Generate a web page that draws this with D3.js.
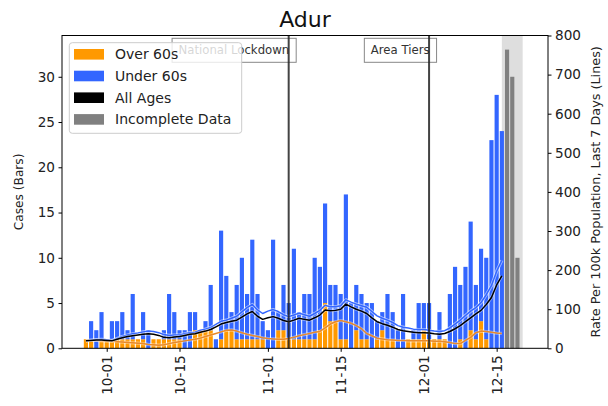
<!DOCTYPE html>
<html><head><meta charset="utf-8">
<script src="https://cdn.jsdelivr.net/npm/d3@7"></script>
<style>body{margin:0;background:#fff;} text{font-family:"DejaVu Sans",sans-serif;}</style>
</head><body><svg id="c" width="608" height="406"></svg>
<script>
// ---------------- data ----------------
const title = "Adur";
const firstDate = "2020-09-27";           // first daily bar
const over60 = [1,1,0,1,1,1,1,1,1,1,1,1,0,1,1,1,1,1,1,0,0,2,2,2,2,0,1,2,2,1,1,1,1,1,1,0,0,2,2,1,1,1,1,1,1,2,5,3,3,1,1,0,2,1,1,0,1,2,1,1,0,0,1,1,1,2,1,1,1,1,0,0,1,0,2,1,3,1,0,0,0];
const under60 = [0,2,2,3,0,2,2,3,1,5,0,3,2,0,0,1,5,3,1,2,4,2,0,1,5,1,12,6,2,6,9,5,11,5,2,2,12,2,5,4,10,3,5,5,9,7,11,4,4,5,16,5,5,5,4,5,2,2,5,3,2,6,0,1,4,3,4,0,3,0,6,9,6,9,12,6,8,9,23,28,24];
const incompleteDates = ["2020-12-17","2020-12-18","2020-12-19"];
const incompleteCases = [33,30,10];
const rateAll = [19,20,21,21,20,19,23,27,30,32,34,36,37,36,33,28,27,29,30,33,36,37,41,44,48,55,62,66,69,72,80,88,94,82,74,78,81,77,71,68,72,77,74,72,78,85,98,96,97,100,113,106,100,95,89,78,68,63,59,54,48,45,43,41,40,40,39,37,36,38,43,50,58,68,78,88,97,112,130,162,185];
const rateOver60 = [21,20,20,19,18,18,17,16,15,14,13,12,10,9,8,9,12,15,17,19,21,23,26,30,34,38,42,46,47,44,40,36,33,30,27,25,24,23,23,25,28,32,35,38,41,43,52,62,68,71,68,64,58,50,38,32,26,24,22,21,20,20,19,19,19,19,19,18,18,17,15,12,12,20,28,40,44,43,41,39,38];
const rateUnder60 = [19,21,22,23,22,20,25,30,34,37,39,42,44,43,40,35,33,34,34,37,40,41,46,49,53,61,69,72,77,82,93,104,112,98,89,95,99,94,86,81,85,90,86,82,89,97,110,106,106,109,124,118,113,109,105,94,83,77,72,66,58,54,52,49,48,48,46,44,43,45,52,62,72,84,95,104,117,137,160,197,225];
const shadeRange = ["2020-12-16","2020-12-20"];
const eventDates = ["2020-11-05","2020-12-02"];
const eventLabels = ["National Lockdown","Area Tiers"];
const xTickDates = ["2020-10-01","2020-10-15","2020-11-01","2020-11-15","2020-12-01","2020-12-15"];
const yLeftTicks = [0,5,10,15,20,25,30];
const yRightTicks = [0,100,200,300,400,500,600,700,800];
const legendLabels = ["Over 60s","Under 60s","All Ages","Incomplete Data"];
const legendColors = ["#ff9900","#3366ff","#000000","#808080"];

// ---------------- layout ----------------
const C = {orange:"#ff9900", blue:"#3366ff", grey:"#808080", orangeLine:"#e8892a"};
const L = 62, R = 548, T = 35.5, B = 348.3;
const svg = d3.select("#c");
const parse = d3.utcParse("%Y-%m-%d");
const day0 = parse(firstDate);
const dates = under60.map((_, i) => d3.utcDay.offset(day0, i));

const x = d3.scaleUtc()
  .domain([new Date(Date.UTC(2020,8,22,9,36)), new Date(Date.UTC(2020,11,24,21,0))])
  .range([L, R]);
const yL = d3.scaleLinear().domain([0, 34.56]).range([B, T]);
const yR = d3.scaleLinear().domain([0, 800]).range([B, T]);
const dayW = x(d3.utcDay.offset(day0,1)) - x(day0);
const bw = dayW * 0.8;

// shading for incomplete data
svg.append("rect")
  .attr("x", x(parse(shadeRange[0]))).attr("y", T)
  .attr("width", x(parse(shadeRange[1])) - x(parse(shadeRange[0])))
  .attr("height", B - T).attr("fill", "#d3d3d3").attr("opacity", 0.75);

// stacked bars
const g = svg.append("g");
g.selectAll(".o").data(dates).join("rect")
  .attr("x", d => x(d) - bw/2).attr("width", bw)
  .attr("y", (d,i) => yL(over60[i])).attr("height", (d,i) => yL(0) - yL(over60[i]))
  .attr("fill", C.orange);
g.selectAll(".u").data(dates).join("rect")
  .attr("x", d => x(d) - bw/2).attr("width", bw)
  .attr("y", (d,i) => yL(over60[i] + under60[i]))
  .attr("height", (d,i) => yL(over60[i]) - yL(over60[i] + under60[i]))
  .attr("fill", C.blue);
g.selectAll(".gr").data(incompleteDates).join("rect")
  .attr("x", d => x(parse(d)) - bw/2).attr("width", bw)
  .attr("y", (d,i) => yL(incompleteCases[i])).attr("height", (d,i) => yL(0) - yL(incompleteCases[i]))
  .attr("fill", C.grey);

// lines
function drawLine(vals, color, haloOp) {
  const line = d3.line().x((v,i) => x(dates[i])).y(v => yR(v));
  svg.append("path").attr("d", line(vals)).attr("fill","none")
    .attr("stroke","#fff").attr("stroke-width",3.2).attr("stroke-opacity",haloOp).attr("stroke-linejoin","round");
  svg.append("path").attr("d", line(vals)).attr("fill","none")
    .attr("stroke",color).attr("stroke-width",1.5).attr("stroke-linejoin","round");
}
drawLine(rateOver60, C.orangeLine, 0.4);
drawLine(rateUnder60, C.blue, 0.55);
drawLine(rateAll, "#000", 0.4);

// event annotations
eventDates.forEach((d, i) => {
  const ex = x(parse(d));
  const grp = svg.append("g");
  const txt = grp.append("text").attr("x", ex + 0.5).attr("y", 54.2)
    .attr("text-anchor","end").attr("font-size", 11.7).attr("fill","#333").text(eventLabels[i]);
  const tw = txt.node().getComputedTextLength();
  grp.insert("rect","text").attr("x", ex + 0.5 - tw - 6.5).attr("y", 38.3)
    .attr("width", tw + 13.5).attr("height", 24)
    .attr("fill","#fff").attr("fill-opacity",0.6).attr("stroke","#888").attr("stroke-width",1);
  svg.append("line").attr("x1", ex).attr("x2", ex).attr("y1", T).attr("y2", B)
    .attr("stroke","#222").attr("stroke-width",2).attr("stroke-opacity",0.85);
});

// frame
svg.append("rect").attr("x",L).attr("y",T).attr("width",R-L).attr("height",B-T)
  .attr("fill","none").attr("stroke","#000").attr("stroke-width",1);

// axes
const fs = 13.6;
const ax = svg.append("g").attr("transform",`translate(0,${B})`)
  .call(d3.axisBottom(x).tickValues(xTickDates.map(parse)).tickFormat(d3.utcFormat("%m-%d")).tickSize(3.5).tickPadding(3.5));
ax.select(".domain").remove();
ax.selectAll("text").attr("font-size",fs).attr("font-family","DejaVu Sans").attr("fill","#222")
  .attr("transform","rotate(-90)").attr("text-anchor","end").attr("x",-7).attr("y",0).attr("dy","0.35em");
const al = svg.append("g").attr("transform",`translate(${L},0)`)
  .call(d3.axisLeft(yL).tickValues(yLeftTicks).tickSize(3.5).tickPadding(3.5));
al.select(".domain").remove();
al.selectAll("text").attr("font-size",fs).attr("font-family","DejaVu Sans").attr("fill","#222");
const ar = svg.append("g").attr("transform",`translate(${R},0)`)
  .call(d3.axisRight(yR).tickValues(yRightTicks).tickSize(3.5).tickPadding(3.5));
ar.select(".domain").remove();
ar.selectAll("text").attr("font-size",fs).attr("font-family","DejaVu Sans").attr("fill","#222");

// axis labels & title
svg.append("text").attr("transform",`translate(23,${(T+B)/2}) rotate(-90)`)
  .attr("text-anchor","middle").attr("font-size",12.2).attr("fill","#222").text("Cases (Bars)");
svg.append("text").attr("transform",`translate(600,${(T+B)/2}) rotate(-90)`)
  .attr("text-anchor","middle").attr("font-size",12.8).attr("fill","#222").text("Rate Per 100k Population, Last 7 Days (Lines)");
svg.append("text").attr("x",(L+R)/2).attr("y",27).attr("text-anchor","middle")
  .attr("font-size",22).attr("fill","#111").text(title);

// legend
const lg = svg.append("g");
lg.append("rect").attr("x",69.3).attr("y",42.7).attr("width",172.4).attr("height",90.6).attr("rx",3)
  .attr("fill","#fff").attr("fill-opacity",0.8).attr("stroke","#ccc");
legendLabels.forEach((lab, i) => {
  const cy = 54.3 + i * 21.7;
  lg.append("rect").attr("x",74).attr("y",cy-5.3).attr("width",30).attr("height",10.6).attr("fill",legendColors[i]);
  lg.append("text").attr("x",115).attr("y",cy+5).attr("font-size",14).attr("fill","#222").text(lab);
});
</script></body></html>
